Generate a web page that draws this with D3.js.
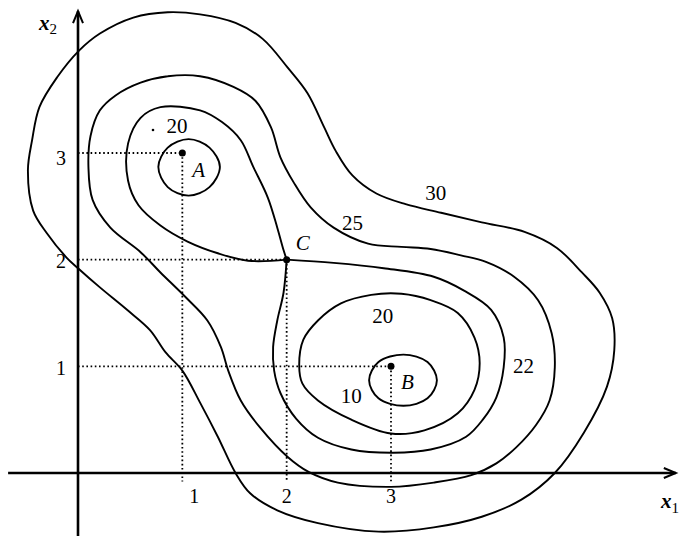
<!DOCTYPE html>
<html>
<head>
<meta charset="utf-8">
<script src="https://cdn.jsdelivr.net/npm/d3@7"></script>
<style>
body { margin: 0; background: #fff; }
svg text { font-family: "Liberation Serif", "DejaVu Serif", serif; fill: #000; }
</style>
</head>
<body>
<div id="chart"></div>
<script>
// contour lines as (x1, x2) pairs
var contour30 = [
  [0.01, 3.96], [0.21, 4.12], [0.53, 4.27], [0.86, 4.32], [1.17, 4.30], [1.51, 4.22],
  [1.77, 4.07], [2.01, 3.80], [2.20, 3.56], [2.36, 3.24], [2.47, 3.02], [2.63, 2.79],
  [2.86, 2.62], [3.14, 2.52], [3.48, 2.44], [3.87, 2.35], [4.28, 2.26], [4.59, 2.11],
  [4.83, 1.88], [5.00, 1.69], [5.12, 1.45], [5.14, 1.15], [5.07, 0.81], [4.85, 0.38],
  [4.57, 0.00], [4.25, -0.25], [3.87, -0.41], [3.41, -0.51], [2.88, -0.55], [2.30, -0.47],
  [1.91, -0.35], [1.65, -0.19], [1.51, 0.00], [1.34, 0.34], [1.17, 0.66], [1.00, 0.96],
  [0.84, 1.13], [0.69, 1.34], [0.47, 1.53], [0.21, 1.74], [0.00, 1.92], [-0.11, 2.02],
  [-0.30, 2.25], [-0.43, 2.46], [-0.48, 2.84], [-0.44, 3.12], [-0.37, 3.43], [-0.20, 3.71]
]

var contour25 = [
  [0.60, 3.66], [0.86, 3.72], [1.17, 3.72], [1.49, 3.62], [1.70, 3.49], [1.85, 3.24],
  [1.94, 2.96], [2.07, 2.72], [2.23, 2.49], [2.45, 2.30], [2.78, 2.15], [3.10, 2.12],
  [3.38, 2.10], [3.67, 2.04], [3.91, 1.98], [4.18, 1.84], [4.41, 1.62], [4.54, 1.31],
  [4.57, 0.99], [4.52, 0.68], [4.39, 0.45], [4.20, 0.24], [4.01, 0.09], [3.77, -0.02],
  [3.41, -0.09], [3.00, -0.13], [2.49, -0.09], [2.21, 0.01], [2.01, 0.15], [1.75, 0.42],
  [1.56, 0.68], [1.44, 0.96], [1.37, 1.18], [1.24, 1.43], [1.03, 1.65], [0.79, 1.88],
  [0.60, 2.07], [0.31, 2.30], [0.14, 2.56], [0.10, 2.87], [0.12, 3.16], [0.21, 3.40],
  [0.36, 3.54]
]

// the level through the saddle C: two lobes that meet at C
var lobeA = [
  [2.00, 2.00], [1.97, 2.09], [1.91, 2.30], [1.82, 2.58], [1.68, 2.87], [1.56, 3.12],
  [1.38, 3.29], [1.17, 3.40], [0.79, 3.43], [0.60, 3.33], [0.48, 3.09], [0.48, 2.74],
  [0.58, 2.51], [0.79, 2.32], [1.05, 2.17], [1.34, 2.06], [1.63, 1.99], [2.00, 2.00]
]

var lobeB = [
  [2.00, 2.00], [2.45, 1.97], [2.93, 1.92], [3.41, 1.84], [3.70, 1.71], [3.96, 1.53],
  [4.08, 1.27], [4.08, 0.99], [4.01, 0.71], [3.88, 0.50], [3.72, 0.34], [3.38, 0.22],
  [3.02, 0.19], [2.62, 0.22], [2.30, 0.33], [2.09, 0.51], [1.94, 0.75], [1.88, 0.96],
  [1.87, 1.18], [1.91, 1.43], [1.97, 1.69], [2.00, 2.00]
]

var ringB20 = [
  [2.12, 1.01], [2.16, 1.25], [2.30, 1.43], [2.52, 1.59], [2.81, 1.67], [3.10, 1.68],
  [3.38, 1.62], [3.64, 1.50], [3.80, 1.27], [3.85, 1.03], [3.80, 0.78], [3.64, 0.56],
  [3.32, 0.40], [3.00, 0.37], [2.62, 0.50], [2.30, 0.68], [2.15, 0.84]
]

var ringA = [
  [0.77, 2.87], [0.86, 3.05], [1.06, 3.13], [1.26, 3.05],
  [1.36, 2.87], [1.26, 2.68], [1.06, 2.60], [0.86, 2.68]
]

var ringB = [
  [2.79, 0.87], [2.88, 1.04], [3.12, 1.11], [3.35, 1.04],
  [3.44, 0.87], [3.35, 0.70], [3.12, 0.63], [2.88, 0.70]
]

// special points
var pointNames = ["A", "B", "C"]
var pointX1 = [1, 3, 2]
var pointX2 = [3, 1, 2]

// level labels
var levelText = ["20", "25", "30", "20", "22", "10"]
var levelX1 = [0.95, 2.63, 3.43, 2.92, 4.27, 2.62]
var levelX2 = [3.19, 2.28, 2.56, 1.41, 0.94, 0.66]

var xTicks = [1, 2, 3]
var yTicks = [1, 2, 3]

var width = 684, height = 536

var svg = d3.select("#chart")
    .append("svg")
    .attr("width", width)
    .attr("height", height)

var x = d3.scaleLinear().domain([0, 3]).range([78, 391])
var y = d3.scaleLinear().domain([0, 3]).range([473, 153])

var closedLine = d3.line()
    .x(function (d) { return x(d[0]) })
    .y(function (d) { return y(d[1]) })
    .curve(d3.curveCatmullRomClosed.alpha(0.5))

var openLine = d3.line()
    .x(function (d) { return x(d[0]) })
    .y(function (d) { return y(d[1]) })
    .curve(d3.curveCatmullRom.alpha(0.5))

// dotted guides from each point to the axes
var guides = svg.append("g")
    .attr("fill", "none")
    .attr("stroke", "#000")
    .attr("stroke-width", 1.8)
    .attr("stroke-dasharray", "1.6,2.6")

pointNames.forEach(function (n, i) {
    guides.append("line")
        .attr("x1", x(0)).attr("y1", y(pointX2[i]))
        .attr("x2", x(pointX1[i])).attr("y2", y(pointX2[i]))
    guides.append("line")
        .attr("x1", x(pointX1[i])).attr("y1", y(pointX2[i]))
        .attr("x2", x(pointX1[i])).attr("y2", y(-0.08))
})

// contours
var lines = svg.append("g")
    .attr("fill", "none")
    .attr("stroke", "#000")
    .attr("stroke-width", 1.9)
    .attr("stroke-linejoin", "round")

;[contour30, contour25, ringB20, ringA, ringB].forEach(function (c) {
    lines.append("path").attr("d", closedLine(c))
})
;[lobeA, lobeB].forEach(function (c) {
    lines.append("path").attr("d", openLine(c))
})

// axes with arrows
var axes = svg.append("g")
    .attr("fill", "none")
    .attr("stroke", "#000")
    .attr("stroke-width", 2.6)

var xEnd = x(5.73), yEnd = y(4.33)
axes.append("line")
    .attr("x1", x(-0.67)).attr("y1", y(0))
    .attr("x2", xEnd).attr("y2", y(0))
axes.append("line")
    .attr("x1", x(0)).attr("y1", height)
    .attr("x2", x(0)).attr("y2", yEnd)
axes.append("path")
    .attr("stroke-width", 2)
    .attr("d", "M" + (xEnd - 12) + "," + (y(0) - 5) + "L" + xEnd + "," + y(0) + "L" + (xEnd - 12) + "," + (y(0) + 5))
axes.append("path")
    .attr("stroke-width", 2)
    .attr("d", "M" + (x(0) - 5) + "," + (yEnd + 12) + "L" + x(0) + "," + yEnd + "L" + (x(0) + 5) + "," + (yEnd + 12))

// points
svg.selectAll(".pt")
    .data(pointNames)
    .enter().append("circle")
    .attr("class", "pt")
    .attr("cx", function (d, i) { return x(pointX1[i]) })
    .attr("cy", function (d, i) { return y(pointX2[i]) })
    .attr("r", 3.5)
    .attr("fill", "#000")

var nameDx = [10, 10, 9], nameDy = [24, 23, -10]
svg.selectAll(".ptlabel")
    .data(pointNames)
    .enter().append("text")
    .attr("class", "ptlabel")
    .attr("x", function (d, i) { return x(pointX1[i]) + nameDx[i] })
    .attr("y", function (d, i) { return y(pointX2[i]) + nameDy[i] })
    .attr("font-size", 21)
    .attr("font-style", "italic")
    .text(function (d) { return d })

// level labels
svg.selectAll(".level")
    .data(levelText)
    .enter().append("text")
    .attr("class", "level")
    .attr("x", function (d, i) { return x(levelX1[i]) })
    .attr("y", function (d, i) { return y(levelX2[i]) })
    .attr("text-anchor", "middle")
    .attr("font-size", 21)
    .text(function (d) { return d })

// stray dot next to the first label
svg.append("circle")
    .attr("cx", 153).attr("cy", 130).attr("r", 1.3).attr("fill", "#000")

// tick labels
svg.selectAll(".xtick")
    .data(xTicks)
    .enter().append("text")
    .attr("class", "xtick")
    .attr("x", function (d) { return x(d) + (d === 1 ? 12 : 0) })
    .attr("y", y(0) + 30)
    .attr("text-anchor", "middle")
    .attr("font-size", 20)
    .text(function (d) { return d })

svg.selectAll(".ytick")
    .data(yTicks)
    .enter().append("text")
    .attr("class", "ytick")
    .attr("x", x(0) - 17)
    .attr("y", function (d) { return y(d) + (d === 3 ? 12 : d === 2 ? 8 : 9) })
    .attr("text-anchor", "middle")
    .attr("font-size", 20)
    .text(function (d) { return d })

// axis names
var xName = svg.append("text").attr("x", 661).attr("y", 508)
    .attr("font-size", 21).attr("font-style", "italic").attr("font-weight", "bold")
xName.append("tspan").text("x")
xName.append("tspan").attr("font-size", 15).attr("font-style", "normal").attr("font-weight", "normal").attr("dy", 5).text("1")

var yName = svg.append("text").attr("x", 39).attr("y", 30)
    .attr("font-size", 21).attr("font-style", "italic").attr("font-weight", "bold")
yName.append("tspan").text("x")
yName.append("tspan").attr("font-size", 15).attr("font-style", "normal").attr("font-weight", "normal").attr("dy", 4).text("2")
</script>
</body>
</html>
